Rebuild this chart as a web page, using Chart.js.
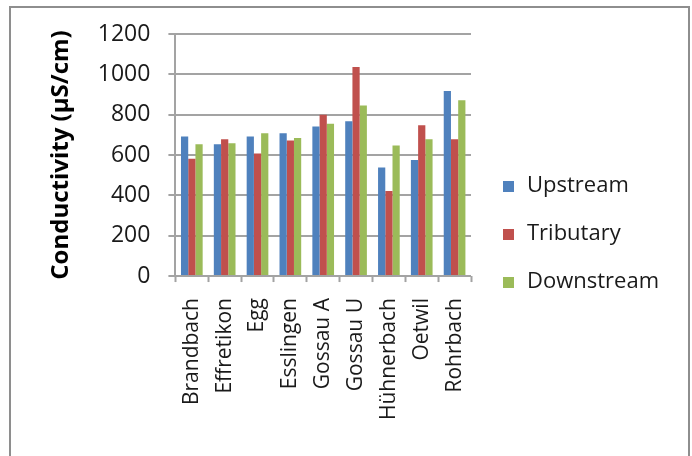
<!DOCTYPE html>
<html>
<head>
<meta charset="utf-8">
<script src="https://cdn.jsdelivr.net/npm/chart.js@4.4.1/dist/chart.umd.min.js"></script>
<style>
  html, body { margin: 0; padding: 0; background: #fff; }
  #wrap { position: relative; width: 692px; height: 456px; overflow: hidden; }
  #conductivityChart { position: absolute; left: 0; top: 0; }
  #frame {
    position: absolute; left: 9px; top: 6px; width: 677px; height: 500px;
    border: 2px solid #8e8e8e; pointer-events: none;
  }
</style>
</head>
<body>
<div id="wrap">
  <canvas id="conductivityChart" width="692" height="456"></canvas>
  <div id="frame"></div>
</div>
<script>
const sites = ['Brandbach', 'Effretikon', 'Egg', 'Esslingen', 'Gossau A', 'Gossau U', 'Hühnerbach', 'Oetwil', 'Rohrbach'];
const upstream = [692, 653, 692, 708, 742, 768, 538, 575, 917];
const tributary = [582, 678, 607, 672, 800, 1037, 422, 748, 678];
const downstream = [653, 658, 708, 685, 755, 845, 647, 678, 872];
const yTicks = [0, 200, 400, 600, 800, 1000, 1200];

const FONT = 'Open Sans, sans-serif';
const GRID = '#a3a3a3';
const TEXT = '#1a1a1a';

// Legend to the right of the plot, rows spaced wider than the built-in one allows
const sideLegend = {
  id: 'sideLegend',
  afterDraw(chart) {
    const { ctx, chartArea } = chart;
    const datasets = chart.data.datasets;
    const rowGap = 48;
    const box = 11;
    const x = chartArea.right + 32;
    const midY = 234;
    ctx.save();
    ctx.font = `22px ${FONT}`;
    ctx.textBaseline = 'middle';
    ctx.textAlign = 'left';
    datasets.forEach((ds, i) => {
      const y = midY + (i - (datasets.length - 1) / 2) * rowGap;
      ctx.fillStyle = ds.backgroundColor;
      ctx.fillRect(x, Math.round(y - box / 2), box, box);
      ctx.fillStyle = TEXT;
      ctx.fillText(ds.label, x + box + 13, y);
    });
    ctx.restore();
  },
};

new Chart(document.getElementById('conductivityChart'), {
  type: 'bar',
  data: {
    labels: sites,
    datasets: [
      { label: 'Upstream', data: upstream, backgroundColor: '#4f81bd' },
      { label: 'Tributary', data: tributary, backgroundColor: '#c0504d' },
      { label: 'Downstream', data: downstream, backgroundColor: '#9bbb59' },
    ],
  },
  plugins: [sideLegend],
  options: {
    responsive: false,
    animation: false,
    layout: { padding: { top: 34, right: 221, bottom: 20, left: 47 } },
    datasets: {
      bar: { categoryPercentage: 0.66, barPercentage: 1, borderWidth: 0 },
    },
    plugins: {
      tooltip: { enabled: false },
      legend: { display: false },
    },
    scales: {
      x: {
        grid: {
          offset: true,
          drawOnChartArea: false,
          tickLength: 6,
          tickColor: GRID,
          tickWidth: 2,
        },
        border: { display: false },
        ticks: {
          minRotation: 90,
          maxRotation: 90,
          autoSkip: false,
          padding: 16,
          color: TEXT,
          font: { family: FONT, size: 21 },
        },
      },
      y: {
        min: 0,
        max: 1200,
        afterBuildTicks(axis) {
          axis.ticks = yTicks.map((value) => ({ value }));
        },
        grid: { color: GRID, lineWidth: 2, tickLength: 7 },
        border: { color: GRID, width: 2 },
        ticks: {
          padding: 18,
          color: TEXT,
          font: { family: FONT, size: 23 },
          callback: (value) => String(value),
        },
        title: {
          display: true,
          text: 'Conductivity (µS/cm)',
          color: '#000',
          padding: { top: 0, bottom: 4 },
          font: { family: FONT, size: 24, weight: 'bold' },
        },
      },
    },
  },
});
</script>
</body>
</html>
